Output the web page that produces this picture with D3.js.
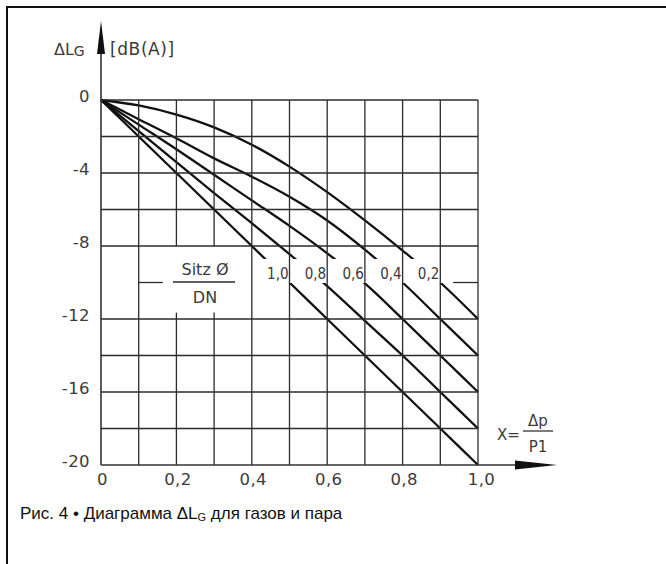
<!DOCTYPE html>
<html lang="de">
<head>
<meta charset="UTF-8">
<title>Diagramm ΔLG</title>
<script src="https://d3js.org/d3.v7.min.js"></script>
<style>
  body { margin: 0; background: #fff; }
  svg { display: block; }
  .lbl { font-family: "DejaVu Sans", sans-serif; fill: #3a3a3a; }
  .narrow { font-family: "DejaVu Sans Condensed", "DejaVu Sans", sans-serif; fill: #3a3a3a; }
  .caption { font-family: "Liberation Sans", Arial, sans-serif; fill: #111; font-size: 17px; }
</style>
</head>
<body>
<svg id="chart" width="666" height="564"></svg>
<script>
// x = Δp / p1
const xValues = [0, 0.1, 0.2, 0.3, 0.4, 0.5, 0.6, 0.7, 0.8, 0.9, 1.0];
// Sitz Ø / DN curves, ΔLG in dB(A) read at each x
const ratioLabels = ["1,0", "0,8", "0,6", "0,4", "0,2"];
const curve10 = [0, -2.0, -4.0, -6.0, -8.0, -10.0, -12.0, -14.0, -16.0, -18.0, -20.0];
const curve08 = [0, -1.7, -3.4, -5.1, -6.75, -8.45, -10.2, -12.1, -14.0, -16.0, -18.0];
const curve06 = [0, -1.35, -2.7, -4.1, -5.5, -6.9, -8.4, -10.05, -12.0, -14.0, -16.0];
const curve04 = [0, -1.05, -2.1, -3.2, -4.2, -5.3, -6.6, -8.2, -10.0, -12.0, -14.0];
const curve02 = [0, -0.3, -0.8, -1.5, -2.45, -3.65, -5.05, -6.6, -8.25, -10.0, -12.0];
const curves = [curve10, curve08, curve06, curve04, curve02];

const xTicks = [0, 0.2, 0.4, 0.6, 0.8, 1.0];
const yTicks = [0, -4, -8, -12, -16, -20];
const xGrid = [0.1, 0.2, 0.3, 0.4, 0.5, 0.6, 0.7, 0.8, 0.9, 1.0];
const yGrid = [0, -2, -4, -6, -8, -10, -12, -14, -16, -18];

const svg = d3.select("#chart");

// frame (left and top rule)
svg.append("line").attr("x1", 7).attr("y1", 7).attr("x2", 666).attr("y2", 7)
  .attr("stroke", "#111").attr("stroke-width", 2);
svg.append("line").attr("x1", 7).attr("y1", 6).attr("x2", 7).attr("y2", 564)
  .attr("stroke", "#111").attr("stroke-width", 2);

const x = d3.scaleLinear().domain([0, 1]).range([101, 478]);
const y = d3.scaleLinear().domain([0, -20]).range([100, 465]);

const gridColor = "#2b2b2b";

// curves first, label band masks them afterwards
const line = d3.line()
  .x((d, i) => x(xValues[i]))
  .y(d => y(d))
  .curve(d3.curveMonotoneX);

svg.append("g").selectAll("path")
  .data(curves)
  .enter().append("path")
  .attr("d", d => line(d))
  .attr("fill", "none")
  .attr("stroke", "#111")
  .attr("stroke-width", 2.3);

// white band where the curve labels sit
svg.append("rect")
  .attr("x", 255).attr("y", 259)
  .attr("width", 200).attr("height", 24)
  .attr("fill", "#fff");

// grid: horizontals (the -10 line is broken by the labels)
const grid = svg.append("g");
yGrid.forEach(v => {
  if (v === -10) {
    grid.append("line").attr("x1", x(0.1)).attr("x2", x(0.164))
      .attr("y1", y(v)).attr("y2", y(v));
    grid.append("line").attr("x1", x(0.934)).attr("x2", x(1))
      .attr("y1", y(v)).attr("y2", y(v));
  } else {
    grid.append("line").attr("x1", x(0)).attr("x2", x(1))
      .attr("y1", y(v)).attr("y2", y(v));
  }
});
// verticals (0.2 and 0.3 interrupted by the Sitz/DN label)
xGrid.forEach(v => {
  if (v === 0.2 || v === 0.3) {
    grid.append("line").attr("x1", x(v)).attr("x2", x(v))
      .attr("y1", y(0)).attr("y2", y(-8));
    grid.append("line").attr("x1", x(v)).attr("x2", x(v))
      .attr("y1", y(-11.65)).attr("y2", y(-20));
  } else {
    grid.append("line").attr("x1", x(v)).attr("x2", x(v))
      .attr("y1", y(0)).attr("y2", y(-20));
  }
});
grid.selectAll("line").attr("stroke", gridColor).attr("stroke-width", 1.3);

// axes with arrows
const axisColor = "#333";
svg.append("line").attr("x1", x(0)).attr("y1", y(-20)).attr("x2", x(0)).attr("y2", 40)
  .attr("stroke", axisColor).attr("stroke-width", 1.6);
svg.append("path").attr("d", `M${x(0) - 4},54 L${x(0)},21 L${x(0) + 4},54 Z`).attr("fill", "#111");
svg.append("line").attr("x1", x(0)).attr("y1", y(-20)).attr("x2", 540).attr("y2", y(-20))
  .attr("stroke", axisColor).attr("stroke-width", 1.6);
svg.append("path").attr("d", `M515,${y(-20) - 4.5} L557,${y(-20)} L515,${y(-20) + 4.5} Z`).attr("fill", "#111");

// tick labels via d3 axes
const fmt = d => d === 0 ? "0" : d3.format(".1f")(d).replace(".", ",");
const yAxis = svg.append("g").attr("transform", `translate(${x(0)},0)`)
  .call(d3.axisLeft(y).tickValues(yTicks).tickSize(0).tickPadding(11).tickFormat(d => d));
const xAxis = svg.append("g").attr("transform", `translate(0,${y(-20)})`)
  .call(d3.axisBottom(x).tickValues(xTicks).tickSize(0).tickPadding(8).tickFormat(fmt));
[yAxis, xAxis].forEach(a => {
  a.select(".domain").remove();
  a.selectAll("text").attr("font-size", 16.5)
    .attr("fill", "#3a3a3a").style("font-family", '"DejaVu Sans", sans-serif')
    .style("letter-spacing", "0.4px");
});
yAxis.selectAll("text").attr("dy", "0.1em");
xAxis.selectAll("text").attr("dx", (d) => d === 1 ? 3 : 1);

// y axis title
const yTitle = svg.append("text").attr("class", "lbl").attr("x", 54).attr("y", 55).attr("font-size", 16);
yTitle.append("tspan").text("ΔL");
yTitle.append("tspan").attr("font-size", 14).attr("dy", 1).text("G");
svg.append("text").attr("class", "lbl").attr("x", 110).attr("y", 55).attr("font-size", 17)
  .style("letter-spacing", "0.6px").text("[dB(A)]");

// x axis title X = Δp / P1
svg.append("text").attr("class", "lbl").attr("x", 497).attr("y", 440).attr("font-size", 15).text("X=");
svg.append("text").attr("class", "lbl").attr("x", 538).attr("y", 426).attr("font-size", 15)
  .attr("text-anchor", "middle").text("Δp");
svg.append("line").attr("x1", 523).attr("x2", 553).attr("y1", 431).attr("y2", 431)
  .attr("stroke", "#333").attr("stroke-width", 1.3);
svg.append("text").attr("class", "lbl").attr("x", 538).attr("y", 452).attr("font-size", 15)
  .attr("text-anchor", "middle").text("P1");

// Sitz Ø / DN
svg.append("text").attr("class", "lbl").attr("x", 205).attr("y", 275).attr("font-size", 16)
  .attr("text-anchor", "middle").text("Sitz Ø");
svg.append("line").attr("x1", 173).attr("x2", 235).attr("y1", 282).attr("y2", 282)
  .attr("stroke", gridColor).attr("stroke-width", 1.3);
svg.append("text").attr("class", "lbl").attr("x", 205).attr("y", 303).attr("font-size", 16)
  .attr("text-anchor", "middle").text("DN");

// curve labels, each ending at the next grid line
svg.append("g").selectAll("text")
  .data(ratioLabels)
  .enter().append("text")
  .attr("class", "narrow")
  .attr("x", (d, i) => x(0.5 + 0.1 * i) - 1)
  .attr("y", 279)
  .attr("font-size", 15)
  .attr("text-anchor", "end")
  .text(d => d);

// caption
const cap = svg.append("text").attr("class", "caption").attr("x", 20).attr("y", 519);
cap.append("tspan").text("Рис. 4 • Диаграмма ΔL");
cap.append("tspan").attr("font-size", 11).attr("dy", 2).text("G");
cap.append("tspan").attr("dy", -2).text(" для газов и пара");
</script>
</body>
</html>
